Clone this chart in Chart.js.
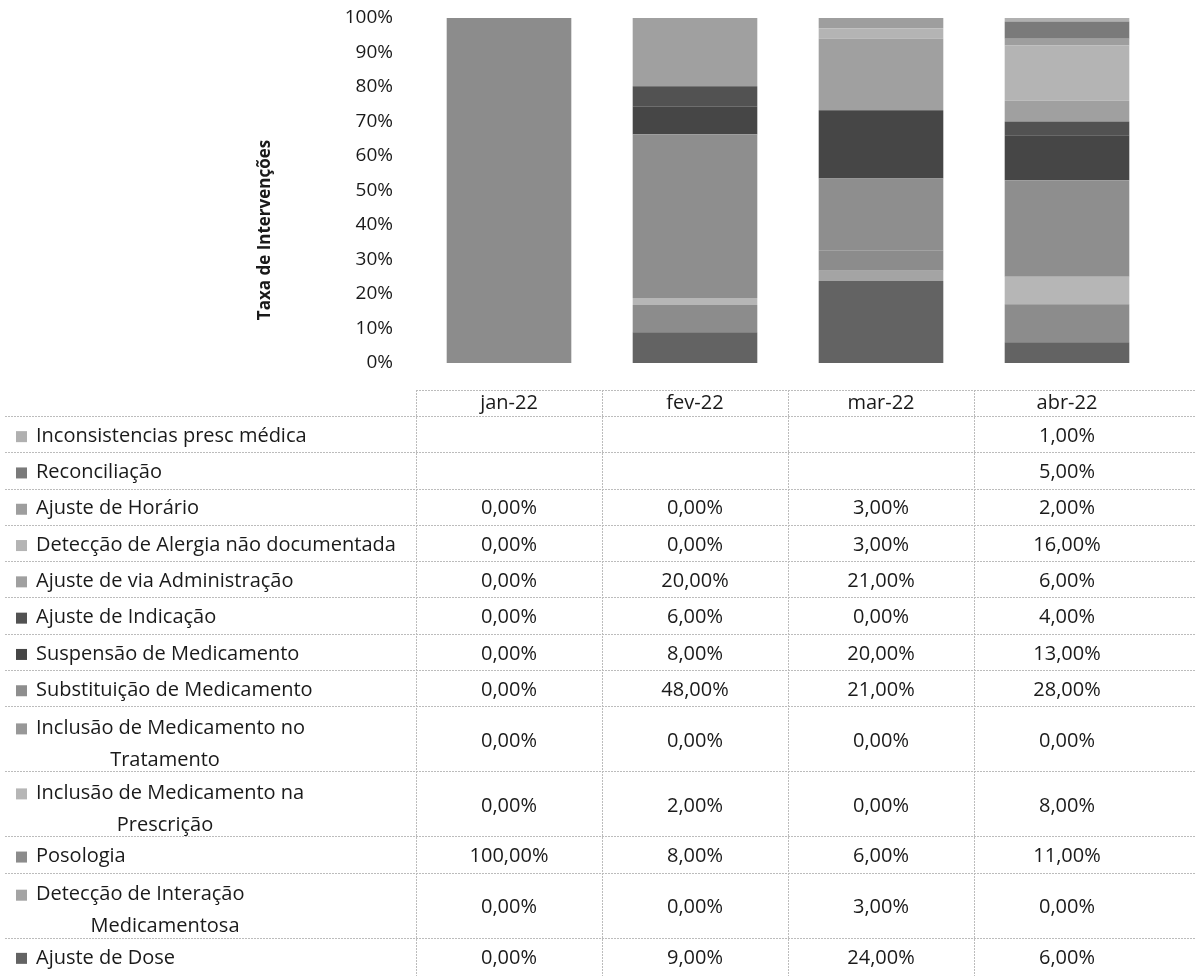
<!DOCTYPE html>
<html>
<head>
<meta charset="utf-8">
<script src="https://cdn.jsdelivr.net/npm/chart.js@4.4.1/dist/chart.umd.min.js"></script>
<style>
  html, body { margin: 0; padding: 0; background: #fff; }
  #wrap { width: 1196px; height: 976px; position: relative; }
</style>
</head>
<body>
<div id="wrap"><canvas id="chart"></canvas></div>
<script>
// DATA (rows as in the table, top to bottom)
const months = ["jan-22", "fev-22", "mar-22", "abr-22"];

const inconsistencias = [null, null, null, 1];
const reconciliacao   = [null, null, null, 5];
const ajusteHorario   = [0, 0, 3, 2];
const alergia         = [0, 0, 3, 16];
const viaAdm          = [0, 20, 21, 6];
const indicacao       = [0, 6, 0, 4];
const suspensao       = [0, 8, 20, 13];
const substituicao    = [0, 48, 21, 28];
const inclusaoTrat    = [0, 0, 0, 0];
const inclusaoPresc   = [0, 2, 0, 8];
const posologia       = [100, 8, 6, 11];
const interacao       = [0, 0, 3, 0];
const ajusteDose      = [0, 9, 24, 6];

const yTicks = [0, 10, 20, 30, 40, 50, 60, 70, 80, 90, 100];
const yTitle = "Taxa de Intervenções";

const rows = [
    { label: ["Inconsistencias presc médica"], data: inconsistencias, color: "#b0b0b0" },
    { label: ["Reconciliação"], data: reconciliacao, color: "#7a7a7a" },
    { label: ["Ajuste de Horário"], data: ajusteHorario, color: "#9e9e9e" },
    { label: ["Detecção de Alergia não documentada"], data: alergia, color: "#b4b4b4" },
    { label: ["Ajuste de via Administração"], data: viaAdm, color: "#a0a0a0" },
    { label: ["Ajuste de Indicação"], data: indicacao, color: "#525252" },
    { label: ["Suspensão de Medicamento"], data: suspensao, color: "#464646" },
    { label: ["Substituição de Medicamento"], data: substituicao, color: "#8e8e8e" },
    { label: ["Inclusão de Medicamento no", "Tratamento"], data: inclusaoTrat, color: "#989898" },
    { label: ["Inclusão de Medicamento na", "Prescrição"], data: inclusaoPresc, color: "#b6b6b6" },
    { label: ["Posologia"], data: posologia, color: "#8c8c8c" },
    { label: ["Detecção de Interação", "Medicamentosa"], data: interacao, color: "#a4a4a4" },
    { label: ["Ajuste de Dose"], data: ajusteDose, color: "#636363" }
];

// 100% stacked: each column normalised by its total
const totals = months.map((m, i) => rows.reduce((s, r) => s + (r.data[i] || 0), 0));

const FONT = "Open Sans";
const TXT = "#1a1a1a";

// table drawn under the plot, columns taken from the x scale
const tablePlugin = {
    id: "dataTable",
    afterDraw(chart) {
        const ctx = chart.ctx;
        const xs = chart.scales.x;
        const area = chart.chartArea;
        const half = (xs.getPixelForValue(1) - xs.getPixelForValue(0)) / 2;
        const top = 390, headH = 26, single = 36.3, dbl = 65;
        const lineL = 5, lineR = 1196;

        ctx.save();

        // y axis title
        ctx.save();
        ctx.translate(265, 230);
        ctx.rotate(-Math.PI / 2);
        ctx.fillStyle = TXT;
        ctx.font = "bold 17px " + FONT;
        ctx.textAlign = "center";
        ctx.textBaseline = "middle";
        ctx.fillText(yTitle, 0, 0);
        ctx.restore();

        ctx.strokeStyle = "#bcbcbc";
        ctx.lineWidth = 1;
        ctx.setLineDash([2, 1]);
        ctx.fillStyle = TXT;
        ctx.font = "20px " + FONT;
        ctx.textBaseline = "middle";

        // header
        ctx.beginPath();
        ctx.moveTo(area.left, top + 0.5);
        ctx.lineTo(lineR, top + 0.5);
        ctx.stroke();
        ctx.textAlign = "center";
        months.forEach((m, i) => ctx.fillText(m, xs.getPixelForValue(i), top + headH / 2));

        let y = top + headH;
        rows.forEach(r => {
            const h = r.label.length > 1 ? dbl : single;
            ctx.beginPath();
            ctx.moveTo(lineL, Math.round(y) + 0.5);
            ctx.lineTo(lineR, Math.round(y) + 0.5);
            ctx.stroke();

            // legend key + label
            const ly = r.label.length > 1 ? y + 22 : y + h / 2 + 2;
            ctx.fillStyle = r.color;
            ctx.fillRect(16, ly - 5, 11, 11);
            ctx.fillStyle = TXT;
            ctx.textAlign = "left";
            ctx.fillText(r.label[0], 36, ly);
            if (r.label.length > 1) {
                ctx.textAlign = "center";
                ctx.fillText(r.label[1], 165, y + 54);
            }

            // values
            ctx.textAlign = "center";
            r.data.forEach((v, i) => {
                if (v === null) return;
                const s = v.toFixed(2).replace(".", ",") + "%";
                ctx.fillText(s, xs.getPixelForValue(i), y + h / 2 + 2);
            });
            y += h;
        });

        // vertical column lines
        ctx.beginPath();
        const xsLines = [area.left];
        for (let i = 0; i < months.length - 1; i++) xsLines.push(xs.getPixelForValue(i) + half);
        xsLines.forEach(x => {
            ctx.moveTo(Math.round(x) + 0.5, top);
            ctx.lineTo(Math.round(x) + 0.5, 976);
        });
        ctx.stroke();
        ctx.restore();
    }
};

const datasets = rows.slice().reverse().map(r => ({
    label: r.label.join(" "),
    data: r.data.map((v, i) => v === null ? null : v / totals[i] * 100),
    backgroundColor: r.color,
    borderWidth: 0,
    barPercentage: 0.67,
    categoryPercentage: 1
}));

new Chart(document.getElementById("chart"), {
    type: "bar",
    data: { labels: months, datasets: datasets },
    options: {
        responsive: true,
        maintainAspectRatio: false,
        animation: false,
        layout: { padding: { left: 248, right: 36, top: 18, bottom: 613 } },
        plugins: {
            legend: { display: false },
            tooltip: { enabled: false }
        },
        scales: {
            x: { stacked: true, display: false },
            y: {
                stacked: true,
                min: 0,
                max: 100,
                afterFit(scale) { scale.width = 416 - 248; },
                afterBuildTicks(scale) { scale.ticks = yTicks.map(v => ({ value: v })); },
                grid: { display: false, drawTicks: true, tickLength: 17 },
                border: { display: false },
                ticks: {
                    padding: 6,
                    color: TXT,
                    font: { family: FONT, size: 19 },
                    callback: v => v + "%"
                },
                title: { display: false }
            }
        }
    },
    plugins: [tablePlugin]
});
</script>
</body>
</html>
